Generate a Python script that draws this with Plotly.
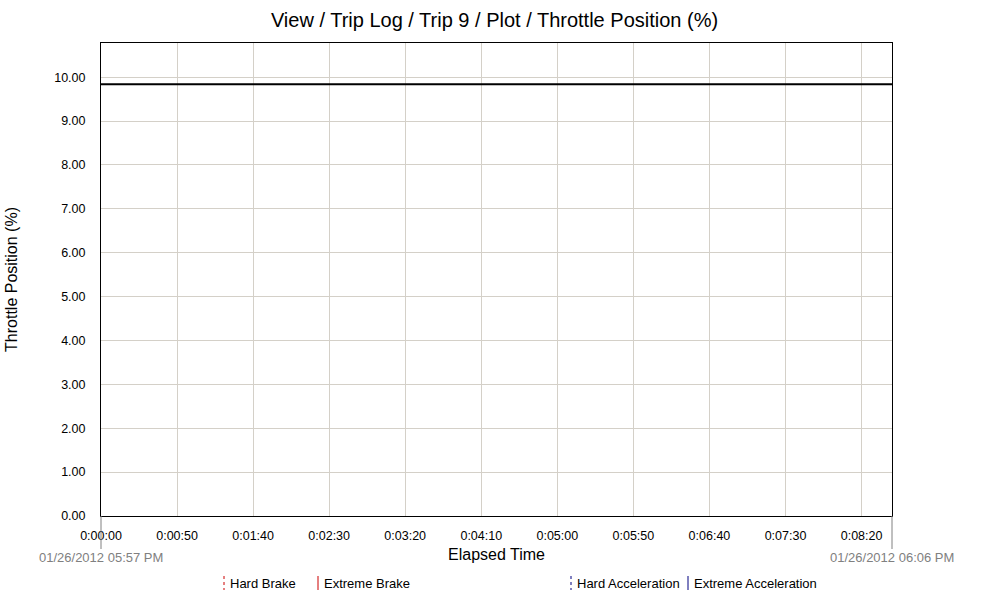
import plotly.graph_objects as go

# Data
elapsed_s = [0, 520]
throttle_pct = [9.84, 9.84]

x_tick_vals = [0, 50, 100, 150, 200, 250, 300, 350, 400, 450, 500]
x_tick_text = ["0:00:00", "0:00:50", "0:01:40", "0:02:30", "0:03:20", "0:04:10",
               "0:05:00", "0:05:50", "0:06:40", "0:07:30", "0:08:20"]
y_tick_vals = [0, 1, 2, 3, 4, 5, 6, 7, 8, 9, 10]

start_label = "01/26/2012 05:57 PM"
end_label = "01/26/2012 06:06 PM"

legend_items = ["Hard Brake", "Extreme Brake", "Hard Acceleration", "Extreme Acceleration"]
legend_colors = ["#cc0000", "#cc0000", "#000080", "#000080"]
legend_dash = ["dot", "solid", "dot", "solid"]

FONT = "Liberation Sans, Arial, sans-serif"

fig = go.Figure()
fig.add_trace(go.Scatter(x=elapsed_s, y=throttle_pct, mode="lines",
                         line=dict(color="black", width=2), showlegend=False,
                         hoverinfo="skip"))

W, H = 989, 597
L, R, T, B = 101, 97, 43, 81
pw, ph = W - L - R, H - T - B

def px_x(px):
    return (px - L) / pw

def px_y(py):
    return (H - B - py) / ph

shapes = []
annotations = []

# date marker lines below the axis ends
for xp in (0, 1):
    shapes.append(dict(type="line", xref="paper", yref="paper", x0=xp, x1=xp,
                       y0=0, y1=px_y(549), line=dict(color="#808080", width=1)))
annotations.append(dict(xref="paper", yref="paper", x=0, y=px_y(557), text=start_label,
                        showarrow=False, xanchor="center", yanchor="middle",
                        font=dict(family=FONT, size=13, color="#808080")))
annotations.append(dict(xref="paper", yref="paper", x=1, y=px_y(557), text=end_label,
                        showarrow=False, xanchor="center", yanchor="middle",
                        font=dict(family=FONT, size=13, color="#808080")))

# custom legend at bottom
legend_line_x = [224, 318, 571, 688]
for name, col, dash, lx in zip(legend_items, legend_colors, legend_dash, legend_line_x):
    shapes.append(dict(type="line", xref="paper", yref="paper",
                       x0=px_x(lx), x1=px_x(lx), y0=px_y(576), y1=px_y(590),
                       line=dict(color=col, width=1, dash=dash)))
    annotations.append(dict(xref="paper", yref="paper", x=px_x(lx + 4), y=px_y(583),
                            text=name, showarrow=False, xanchor="left", yanchor="middle",
                            font=dict(family=FONT, size=13, color="black")))

fig.update_layout(
    width=W, height=H,
    margin=dict(l=L, r=R, t=T, b=B, pad=0),
    paper_bgcolor="white", plot_bgcolor="white",
    font=dict(family=FONT, size=12, color="black"),
    title=dict(text="View / Trip Log / Trip 9 / Plot / Throttle Position (%)",
               x=0.5, xanchor="center", y=1 - 20 / H, yanchor="middle",
               font=dict(family=FONT, size=20, color="black")),
    xaxis=dict(range=[0, 520], tickvals=x_tick_vals, ticktext=x_tick_text,
               showgrid=True, gridcolor="#d4d0c8", gridwidth=1,
               showline=True, linecolor="black", linewidth=1, mirror=True,
               ticks="", ticklabelstandoff=8, zeroline=False,
               tickfont=dict(family=FONT, size=12.5, color="black"),
               title=dict(text="Elapsed Time", standoff=6,
                          font=dict(family=FONT, size=16, color="black"))),
    yaxis=dict(range=[0, 10.78], tickvals=y_tick_vals, tickformat=".2f",
               showgrid=True, gridcolor="#d4d0c8", gridwidth=1,
               showline=True, linecolor="black", linewidth=1, mirror=True,
               ticks="", ticklabelstandoff=12, zeroline=False,
               tickfont=dict(family=FONT, size=12.5, color="black"),
               title=dict(text="Throttle Position (%)", standoff=32,
                          font=dict(family=FONT, size=16, color="black"))),
    shapes=shapes, annotations=annotations, showlegend=False,
)

fig.write_html("out.html", config={"displayModeBar": False},
               post_script="document.body.style.margin='0';")
